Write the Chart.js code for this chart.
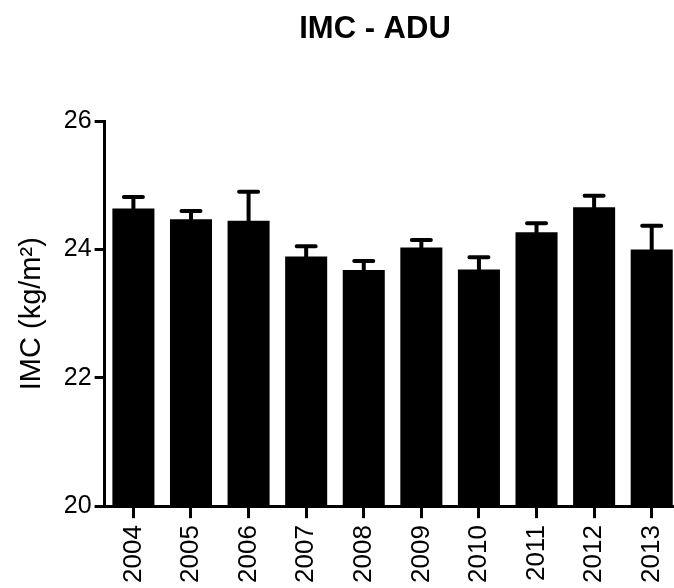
<!DOCTYPE html>
<html>
<head>
<meta charset="utf-8">
<script src="https://cdn.jsdelivr.net/npm/chart.js@4"></script>
<style>
  html, body { margin: 0; padding: 0; background: #fff; }
  #wrap { width: 674px; height: 588px; overflow: hidden; }
</style>
</head>
<body>
<div id="wrap"><canvas id="chart" width="750" height="590"></canvas></div>
<script>
// data
const years = ["2004", "2005", "2006", "2007", "2008", "2009", "2010", "2011", "2012", "2013"];
const imcMean = [24.64, 24.47, 24.45, 23.89, 23.68, 24.03, 23.69, 24.27, 24.66, 24.00];
const imcSem = [0.18, 0.13, 0.45, 0.16, 0.14, 0.12, 0.19, 0.14, 0.18, 0.37];
const yTicks = [20, 22, 24, 26];

const FONT = "'Liberation Sans', Arial, Helvetica, sans-serif";

// upper error bars only, like the original
const errorBars = {
    id: "errorBars",
    afterDatasetsDraw(chart) {
        const ctx = chart.ctx;
        const yScale = chart.scales.y;
        const meta = chart.getDatasetMeta(0);
        ctx.save();
        ctx.strokeStyle = "#000";
        ctx.lineWidth = 4;
        ctx.lineCap = "round";
        meta.data.forEach(function (bar, i) {
            const top = yScale.getPixelForValue(imcMean[i] + imcSem[i]);
            ctx.beginPath();
            ctx.moveTo(bar.x, bar.y);
            ctx.lineTo(bar.x, top);
            ctx.moveTo(bar.x - 9.5, top);
            ctx.lineTo(bar.x + 9.5, top);
            ctx.stroke();
        });
        ctx.restore();
    }
};

new Chart(document.getElementById("chart").getContext("2d"), {
    type: "bar",
    data: {
        labels: years,
        datasets: [{
            data: imcMean,
            backgroundColor: "#000",
            borderWidth: 0,
            categoryPercentage: 1,
            barPercentage: 0.73
        }]
    },
    options: {
        responsive: false,
        animation: false,
        devicePixelRatio: 1,
        layout: { padding: 0 },
        plugins: {
            legend: { display: false },
            tooltip: { enabled: false },
            title: {
                display: true,
                text: "IMC - ADU",
                color: "#000",
                font: { family: FONT, size: 31, weight: "bold" },
                padding: { top: 11, bottom: 73 }
            }
        },
        scales: {
            x: {
                grid: { drawOnChartArea: false, offset: false, tickLength: 12, tickWidth: 3, tickColor: "#000" },
                border: { color: "#000", width: 3 },
                ticks: {
                    color: "#000",
                    font: { family: FONT, size: 26 },
                    minRotation: 90,
                    maxRotation: 90,
                    padding: 7,
                    autoSkip: false
                }
            },
            y: {
                min: yTicks[0],
                max: yTicks[yTicks.length - 1],
                afterBuildTicks: function (axis) {
                    axis.ticks = yTicks.map(function (v) { return { value: v }; });
                },
                grid: { drawOnChartArea: false, tickLength: 10, tickWidth: 3, tickColor: "#000" },
                border: { color: "#000", width: 3 },
                ticks: { color: "#000", font: { family: FONT, size: 25 }, padding: 3 },
                title: {
                    display: true,
                    text: "IMC (kg/m²)",
                    color: "#000",
                    font: { family: FONT, size: 29 },
                    padding: { top: 15, bottom: 11 }
                }
            },
            // empty right-hand space: the plot runs off the right edge in the original
            y2: {
                position: "right",
                grid: { display: false },
                border: { display: false },
                ticks: { display: false },
                afterFit: function (scale) { scale.width = 69.5; }
            }
        }
    },
    plugins: [errorBars]
});
</script>
</body>
</html>
